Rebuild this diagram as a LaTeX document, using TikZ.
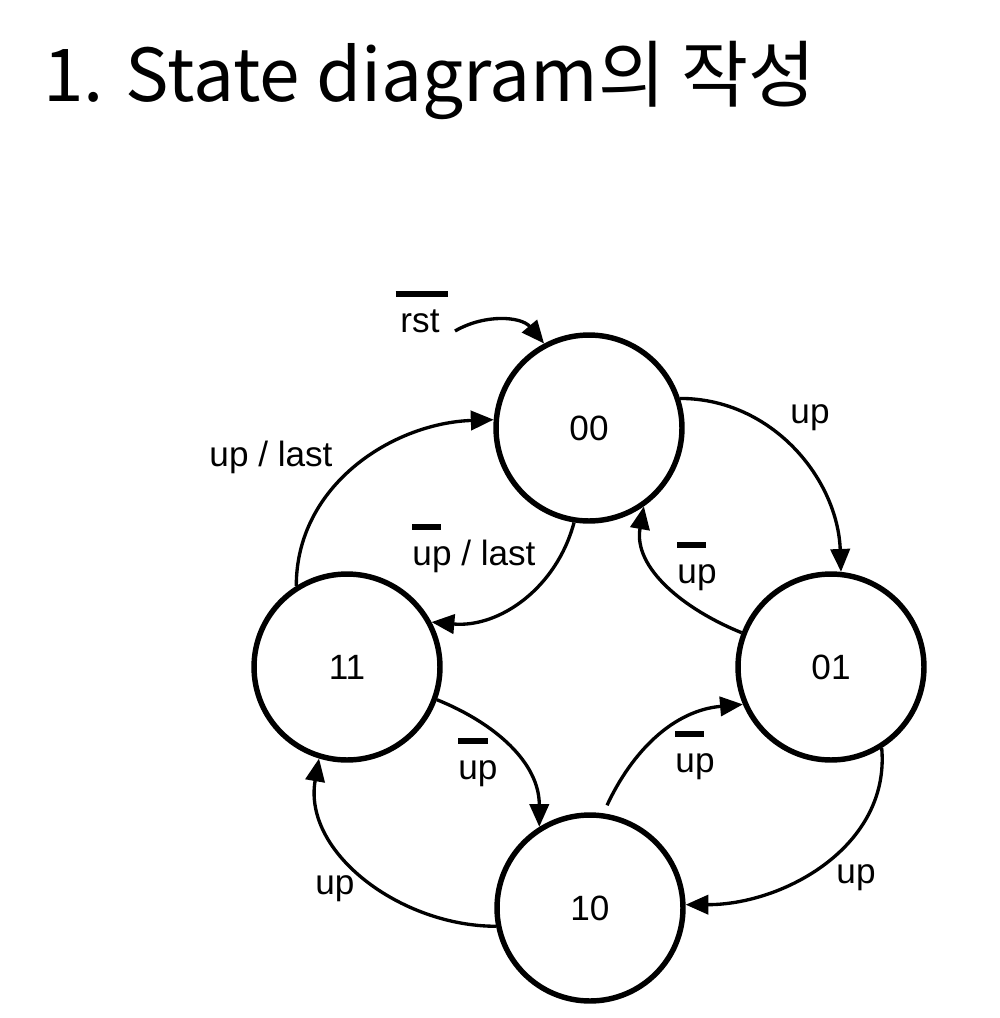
\documentclass[tikz,border=0pt]{standalone}
\usepackage{fontspec}
\setmainfont{Liberation Sans}
\newfontfamily\krfont{Noto Sans CJK KR}
\usetikzlibrary{arrows.meta}
\newcommand{\nbar}[3][0pt]{\leavevmode\rlap{\hspace*{#1}\rule[1em]{#2}{3.5pt}}#3}

\begin{document}
\begin{tikzpicture}[x=0.02cm, y=0.02cm, font=\fontsize{20}{24}\selectfont,
  st/.style={draw, circle, line width=3.1pt, minimum size=3.72cm, inner sep=0pt},
  tr/.style={line width=1.9pt, -{Triangle[length=13pt, width=11pt]}},
  lbl/.style={anchor=base, inner sep=0pt}]
\useasboundingbox (0,0) rectangle (1000,-1018);
\node[anchor=base west, inner sep=0pt, font=\krfont\fontsize{41.5}{50}\selectfont] (title) at (43,-101) {1. State diagram의 작성};
% states
\node[st] (s00) at (589,-428) {00};
\node[st] (s01) at (831,-667) {01};
\node[st] (s11) at (347,-667) {11};
\node[st] (s10) at (590,-908) {10};
% reset
\coordinate (rstin) at (455,-331);
\node[lbl] (lrst) at (420,-332) {\nbar[-2.8pt]{29.6pt}{rst}};
\draw[tr] (rstin) to[out=30, in=130] (s00.118);
% outer ring
\draw[tr] (s00.18) to[out=0, in=92] (s01.84);
\draw[tr] (s01.-58) to[out=-85, in=0] (s10.2);
\draw[tr] (s10.191) to[out=180, in=-100] (s11.253);
\draw[tr] (s11.122) to[out=90, in=182] (s00.175);
% inner ring
\draw[tr] (s00.261) to[out=-105, in=-5] (s11.28);
\draw[tr] (s01.159) to[out=158, in=-100] (s00.-55);
\draw[tr] (s11.-20) to[out=-22, in=90] (s10.122);
\draw[tr, shorten <=5pt] (s10.82) to[out=65, in=185] (s01.203);
% labels
\node[lbl] (l0001) at (810,-423) {up};
\node[lbl] (l0110) at (856,-883) {up};
\node[lbl] (l1011) at (335,-894) {up};
\node[lbl] (l1100) at (271,-466) {up / last};
\node[lbl] (l0011) at (474,-565) {\nbar{16pt}{up} / last};
\node[lbl] (l0100) at (697,-583) {\nbar{16pt}{up}};
\node[lbl] (l1110) at (478,-779) {\nbar{17pt}{up}};
\node[lbl] (l1001) at (695,-772) {\nbar{16pt}{up}};
\end{tikzpicture}
\end{document}
